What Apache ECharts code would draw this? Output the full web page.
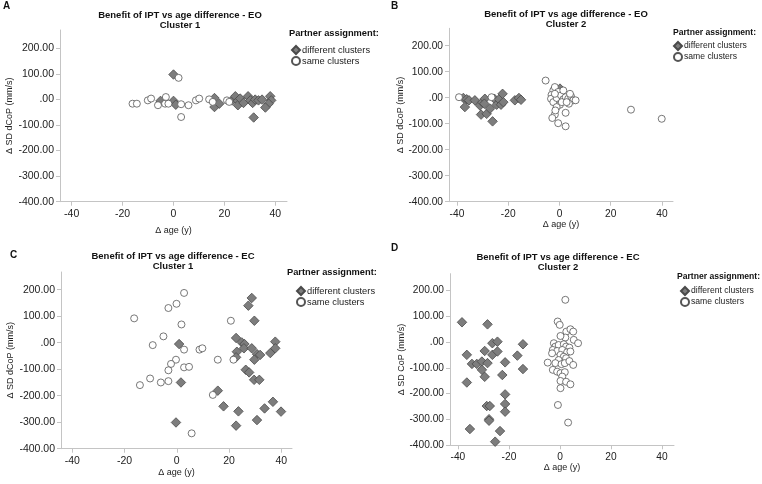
<!DOCTYPE html>
<html>
<head>
<meta charset="utf-8">
<script src="https://cdn.jsdelivr.net/npm/echarts@6/dist/echarts.min.js"></script>
<style>
  html, body { margin: 0; padding: 0; background: #fff; }
  #chart { width: 762px; height: 484px; }
</style>
</head>
<body>
<div id="chart"></div>
<script>
// [age difference (y), delta SD (mm/s)]
const eoC1Diff = [[0,97],[-5.1,-6],[0,-6],[0.9,-21],[16.1,5],[16.1,-30],[18,-17],[23,-4],[24.3,12],[25.3,-6],
  [25.3,-23],[26.2,3],[27.5,-14],[29.3,12],[30.2,-4],[31.1,-14],[32.1,-1],[33.4,-4],[34.8,-1],[31.5,-71],
  [38,12],[38.4,-4],[37.4,-17],[36.1,-32]];
const eoC1Same = [[-16.1,-17],[-14.4,-17],[-10.1,-4],[-8.8,3],[-6.1,-23],[-3,9],[-3.3,-17],[-2,-17],[2,84],
  [3,-19],[3,-69],[5.9,-23],[8.8,-4],[10.1,3],[14,0],[15.4,-10],[21,-4],[21.9,-10]];

const eoC2Diff = [[-37.5,-1],[-36.2,-6],[-35.3,-10],[-36.9,-36],[-33,-10],[-31,-30],[-30.1,-17],[-29.1,-4],
  [-29.3,-23],[-30.6,-65],[-28.4,-62],[-27.1,-42],[-26.1,-91],[-25.4,-4],[-24.5,-27],[-23.6,-6],[-22.8,-27],
  [-21.9,-17],[-22.2,15],[-17.4,-10],[-15.8,-1],[-15,-8],[0.2,35]];
const eoC2Same = [[-39.2,2],[-26.5,2],[-5.4,66],[-2.4,28],[-1.8,41],[-3.1,11],[-3.3,-4],[-2.4,-17],[-1.1,-1],
  [-0.5,22],[0.6,9],[1.5,-6],[2.4,2],[3.4,-4],[4.5,6],[5.4,-10],[6.3,-10],[3.7,-23],[0.2,-27],[-1.1,-36],
  [-1.8,-65],[-2.8,-78],[-0.5,-98],[2.4,-110],[2.4,-58],[-1.6,-49],[1.5,28],[0.9,-17],[2.8,-17],[-1.8,15],
  [4.1,15],[27.9,-46],[39.9,-81]];

const ecC1Diff = [[28.7,169],[27.4,140],[29.7,83],[0.9,-5],[22.7,18],[24.9,1],[25.9,-5],[25.7,-21],[28.7,-21],
  [23,-34],[22.7,-55],[30.7,-43],[31.9,-46],[29.7,-64],[35.8,-39],[37.7,4],[37.7,-21],[26.4,-102],[27.7,-112],
  [29.6,-140],[31.6,-140],[1.6,-150],[15.7,-181],[17.9,-240],[23.6,-259],[22.7,-313],[30.7,-292],[33.6,-248],
  [36.8,-223],[39.9,-260],[-0.3,-301]];
const ecC1Same = [[-16.3,92],[-3.2,131],[-0.1,147],[2.8,188],[1.8,69],[20.7,83],[-5.1,24],[-9.2,-9],[2.8,-26],
  [8.7,-26],[9.8,-21],[-0.3,-64],[-2.2,-80],[-3.2,-104],[2.8,-93],[4.7,-91],[15.7,-64],[21.7,-64],[-10.2,-135],
  [-14.1,-160],[-6.1,-150],[-3.2,-145],[13.8,-197],[5.7,-342]];

const ecC2Diff = [[-38.4,76],[-28.4,68],[-36.5,-50],[-34.5,-85],[-32.6,-85],[-30.6,-76],[-28.4,-82],[-30.6,-108],
  [-29.5,-35],[-26.5,-5],[-24.5,1],[-26.5,-50],[-24.5,-37],[-29.5,-135],[-21.5,-79],[-22.6,-128],[-16.7,-53],
  [-14.5,-9],[-14.5,-105],[-36.5,-157],[-21.5,-203],[-21.5,-240],[-21.5,-270],[-28.7,-248],[-27.5,-248],
  [-27.8,-299],[-27.8,-305],[-35.3,-337],[-23.5,-345],[-25.4,-386]];
const ecC2Same = [[2.1,163],[-0.9,79],[-0.1,66],[2.5,40],[4.1,49],[5.2,40],[5.4,8],[7.1,-5],[2.1,17],[0.2,23],
  [-2.4,-5],[-1.8,-18],[-0.5,-12],[1.5,-9],[2.4,-18],[3.7,-22],[-2.8,-31],[-1.1,-35],[0.9,-31],[2.8,-40],
  [4.1,-37],[-3.1,-44],[0.2,-50],[1.5,-57],[2.4,-63],[-0.5,-70],[-1.8,-82],[0.6,-86],[1.9,-82],[3.7,-74],
  [5.2,-89],[-4.8,-80],[-2.8,-108],[-1.1,-115],[0.2,-121],[1.9,-117],[0.9,-134],[0.2,-151],[2.4,-154],
  [4.1,-164],[0.2,-179],[-0.8,-244],[3.2,-312]];

const xTicks = [-40, -20, 0, 20, 40];
const yTicks = [-400, -300, -200, -100, 0, 100, 200];

const FONT = 'Liberation Sans, Arial, sans-serif';
const panels = [
  { letter: 'A', title: 'Benefit of IPT vs age difference - EO\nCluster 1', yName: '\u0394 SD dCoP (mm/s)',
    diff: eoC1Diff, same: eoC1Same, grid: { left: 60, top: 30, width: 227, height: 171.7 },
    x: [-44.6, 44.6], yMax: 271, fs: 10.5, titleAt: [175, 5], letterAt: [3, 1], yGap: 45, xGap: 24,
    headAt: [289, 29], legendAt: [291, 45], lfs: 9.3 },
  { letter: 'B', title: 'Benefit of IPT vs age difference - EO\nCluster 2', yName: '\u0394 SD dCoP (mm/s)',
    diff: eoC2Diff, same: eoC2Same, grid: { left: 449, top: 28.3, width: 224, height: 173.4 },
    x: [-43.1, 44.3], yMax: 267, fs: 10.2, titleAt: [561, 4], letterAt: [391, 1], yGap: 41, xGap: 14,
    headAt: [673, 28], legendAt: [673, 41], lfs: 8.6 },
  { letter: 'C', title: 'Benefit of IPT vs age difference - EC\nCluster 1', yName: '\u0394 SD dCoP (mm/s)',
    diff: ecC1Diff, same: ecC1Same, grid: { left: 61, top: 272, width: 231, height: 176.7 },
    x: [-44.3, 44.1], yMax: 267, fs: 10.5, titleAt: [168, 246], letterAt: [10, 250], yGap: 44, xGap: 15,
    headAt: [287, 268], legendAt: [296, 286], lfs: 9.3 },
  { letter: 'D', title: 'Benefit of IPT vs age difference - EC\nCluster 2', yName: '\u0394 SD CoP (mm/s)',
    diff: ecC2Diff, same: ecC2Same, grid: { left: 450, top: 273.7, width: 224, height: 171.6 },
    x: [-43.1, 44.7], yMax: 264, fs: 10.2, titleAt: [553, 247], letterAt: [391, 243], yGap: 40, xGap: 14,
    headAt: [677, 272], legendAt: [680, 286], lfs: 8.6 }
];

const axisLine = { show: true, onZero: false, lineStyle: { color: '#c4c4c4', width: 1 } };

const option = {
  animation: false,
  backgroundColor: '#fff',
  title: [],
  legend: [],
  grid: [],
  xAxis: [],
  yAxis: [],
  series: []
};

panels.forEach((p, i) => {
  option.grid.push(Object.assign({ containLabel: false }, p.grid));
  option.title.push({
    text: p.letter, left: p.letterAt[0], top: p.letterAt[1], padding: 0,
    textStyle: { fontFamily: FONT, fontSize: 10, fontWeight: 'bold', color: '#111' }
  });
  option.title.push({
    text: p.title, left: p.titleAt[0], top: p.titleAt[1], textAlign: 'center',
    textStyle: { fontFamily: FONT, fontSize: 9.5, fontWeight: 'bold', color: '#111', lineHeight: 10 }
  });
  option.title.push({
    text: 'Partner assignment:', left: p.headAt[0], top: p.headAt[1], padding: 0,
    textStyle: { fontFamily: FONT, fontSize: p.lfs, fontWeight: 'bold', color: '#111' }
  });
  option.legend.push({
    left: p.legendAt[0], top: p.legendAt[1], orient: 'vertical',
    itemWidth: 8, itemHeight: 8, itemGap: 1, padding: 0,
    textStyle: { fontFamily: FONT, fontSize: p.lfs, color: '#222', padding: [0, 0, 0, -3] },
    data: [{ name: 'different clusters', icon: 'diamond' }, { name: 'same clusters', icon: 'circle' }]
  });
  option.xAxis.push({
    type: 'value', gridIndex: i, min: p.x[0], max: p.x[1],
    name: '\u0394 age (y)', nameLocation: 'middle', nameGap: p.xGap,
    nameTextStyle: { fontFamily: FONT, fontSize: 9, color: '#222', verticalAlign: 'top' },
    axisLine: axisLine,
    splitLine: { show: false },
    axisLabel: { customValues: xTicks, fontFamily: FONT, fontSize: p.fs, color: '#222', margin: 7 },
    axisTick: { show: true, length: 4, customValues: xTicks, lineStyle: { color: '#c4c4c4' } }
  });
  option.yAxis.push({
    type: 'value', gridIndex: i, min: -400, max: p.yMax,
    name: p.yName, nameLocation: 'middle', nameGap: p.yGap, nameRotate: 90,
    nameTextStyle: { fontFamily: FONT, fontSize: 9, color: '#222' },
    axisLine: axisLine,
    splitLine: { show: false },
    axisLabel: {
      customValues: yTicks, fontFamily: FONT, fontSize: p.fs, color: '#222', margin: 6,
      formatter: (v) => (v === 0 ? '.00' : v.toFixed(2))
    },
    axisTick: { show: true, length: 4, customValues: yTicks, lineStyle: { color: '#c4c4c4' } }
  });
  option.series.push({
    name: 'different clusters', type: 'scatter', xAxisIndex: i, yAxisIndex: i,
    symbol: 'diamond', symbolSize: 9.5, data: p.diff,
    itemStyle: { color: '#7d7d7d', borderColor: '#4a4a4a', borderWidth: 0.8, opacity: 1 }
  });
  option.series.push({
    name: 'same clusters', type: 'scatter', xAxisIndex: i, yAxisIndex: i,
    symbol: 'circle', symbolSize: 7, data: p.same,
    itemStyle: { color: '#ffffff', borderColor: '#555', borderWidth: 0.8, opacity: 1 }
  });
});

const chart = echarts.init(document.getElementById('chart'));
chart.setOption(option);
</script>
</body>
</html>
